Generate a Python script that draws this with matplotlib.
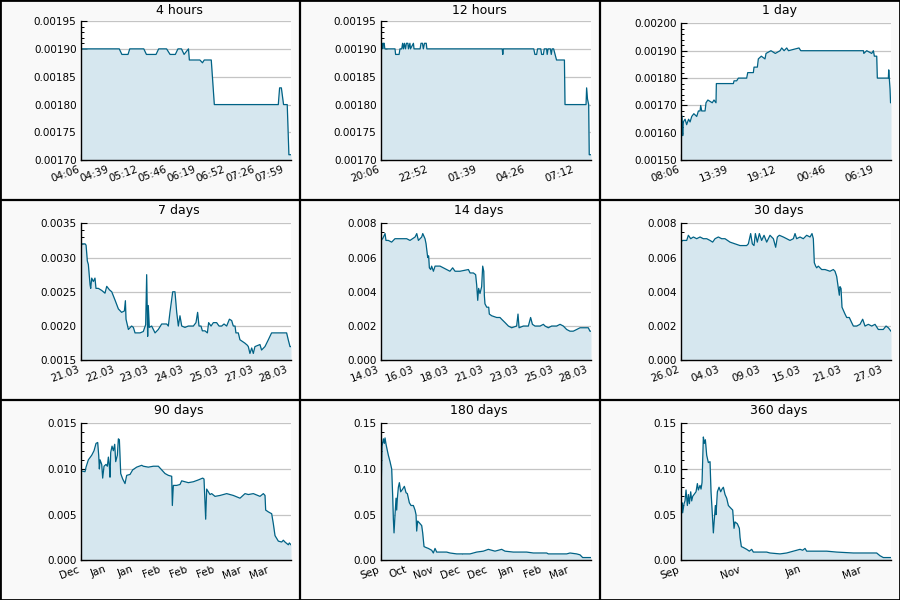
# price history, 9 time windows
import numpy as np
import pandas as pd
import matplotlib
matplotlib.use('Agg')
from matplotlib import pyplot as plt
import matplotlib.dates as mdates
from matplotlib.ticker import FormatStrFormatter, AutoMinorLocator
from matplotlib.lines import Line2D


end_time = pd.Timestamp('2019-03-28 08:06')

# 4 hours (minutes from start, value x 1e-5)
t_4h = [0, 44, 47, 54, 56, 72, 75, 86, 89, 98, 102, 108, 111, 115, 118, 123, 124,
        136, 139, 141, 149, 152.5, 225.5, 227, 229, 231.5, 235.7, 237.6, 240]
v_4h = [190, 190, 189, 189, 190, 190, 189, 189, 190, 190, 189, 189, 190, 190, 189, 190, 188,
        188, 187.5, 188, 188, 180, 180, 183, 183, 180, 180, 171, 171]

# 12 hours (minutes from start, value x 1e-5)
t_12h = [0, 1, 5, 7, 9, 12, 14, 18, 49, 51, 63, 66, 72, 75, 78, 81, 85, 88, 93, 95,
         100, 102, 112, 114, 135, 138, 143, 146, 150, 156, 158, 416, 418, 420, 524, 528,
         534, 537, 548, 551, 557, 560, 568, 570, 573, 581, 584, 587, 592, 597, 602, 629,
         631, 703, 705, 708, 712, 714, 720]
v_12h = [190, 191, 191, 190, 191, 191, 190, 190, 190, 189, 189, 190, 190, 191, 190, 191, 190, 191, 191, 190,
         191, 190, 191, 190, 190, 191, 191, 190, 191, 191, 190, 190, 189, 190, 190, 189,
         189, 190, 190, 189, 189, 190, 190, 189, 190, 190, 189, 190, 190, 189, 188, 188,
         180, 180, 183, 181, 180, 171, 171]

# 1 day (hours from start, value x 1e-5)
t_1d = [0, 0.15, 0.23, 0.3, 0.5, 0.68, 0.9, 1.07, 1.26, 1.5, 1.83, 2.02, 2.21, 2.28, 2.40,
        2.78, 2.89, 3.1, 3.6, 3.8, 4.03, 4.07, 6.01, 6.09, 6.39, 6.58, 7.53, 7.65, 8.29,
        8.37, 8.75, 8.86, 9.2, 9.62, 9.74, 10.3, 10.8, 11.34, 11.53, 11.8, 12.10, 12.3,
        13.5, 13.7, 20.85, 20.9, 21.23, 21.80, 21.99, 22.1, 22.37, 22.44, 23.70, 23.74,
        23.89, 23.95, 24.0]
v_1d = [167, 166, 159, 164, 165, 163, 165, 164, 166, 167, 166, 168, 168, 170, 168,
        168, 171, 172, 171, 172, 171, 178, 178, 179, 179, 180, 180, 182, 182,
        184, 184, 187, 188, 187, 189, 190, 189, 190, 191, 190, 191, 190,
        191, 190, 190, 189, 190, 189, 190, 188, 188, 180, 180, 183,
        176, 171, 171]

# 7 days (hours from start)
t_7d = [0, 0.8, 3.5, 4.3, 5.3, 6.1, 7.5, 8.0, 8.8, 10.1, 11.4, 12.2, 14.1, 16.8, 19.4, 20.8,
        22.9, 24.8, 27.4, 30.1, 32.7, 34.9, 35.7, 36.2, 38.1, 40.7, 42.1, 43.4, 47.4, 50.0,
        51.9, 52.7, 53.5, 54.0, 54.8, 56.7, 59.4, 62.0, 64.7, 68.7, 70.0, 71.3, 73.5, 75.3,
        76.7, 78.0, 79.3, 80.7, 83.3, 86.0, 90.0, 92.1, 93.4, 94.5, 96.1, 97.2, 99.3, 101.2,
        102.2, 104.1, 106.0, 108.6, 110.5, 112.6, 114.5, 116.6, 118.8, 120.6, 121.9, 123.3,
        124.0, 125.9, 127.2, 131.2, 133.1, 133.9, 135.2, 136.6, 137.9, 139.2, 143.2, 144.5,
        147.2, 149.9, 152.5, 164.5, 165.8, 167.2, 168]
v_7d = [0.00310, 0.00320, 0.00320, 0.00318, 0.00295, 0.00290, 0.00260, 0.00255, 0.00270, 0.00265,
        0.00270, 0.00255, 0.00255, 0.00252, 0.00248, 0.00258, 0.00253, 0.00250, 0.00238, 0.00225,
        0.00220, 0.00222, 0.00237, 0.00210, 0.00195, 0.00200, 0.00198, 0.00190, 0.00190, 0.00192,
        0.00202, 0.00275, 0.00185, 0.00230, 0.00198, 0.00200, 0.00190, 0.00195, 0.00203, 0.00203,
        0.00200, 0.00220, 0.00250, 0.00250, 0.00220, 0.00200, 0.00215, 0.00200, 0.00198, 0.00200,
        0.00200, 0.00205, 0.00220, 0.00200, 0.00200, 0.00193, 0.00193, 0.00190, 0.00205, 0.00200,
        0.00205, 0.00205, 0.00200, 0.00200, 0.00203, 0.00200, 0.00210, 0.00208, 0.00200, 0.00200,
        0.00190, 0.00190, 0.00180, 0.00175, 0.00172, 0.00170, 0.00160, 0.00168, 0.00160, 0.00170,
        0.00173, 0.00165, 0.00170, 0.00180, 0.00190, 0.00190, 0.00180, 0.00170, 0.00170]

# 14 days (days from start)
t_14d = [0, 0.13, 0.29, 0.35, 0.51, 0.73, 0.95, 1.29, 1.73, 1.95, 2.29, 2.40, 2.51, 2.73, 2.80,
         2.95, 3.02, 3.06, 3.13, 3.19, 3.24, 3.33, 3.39, 3.51, 3.62, 3.95, 4.17, 4.39, 4.61,
         4.79, 4.95, 5.28, 5.84, 5.95, 6.17, 6.32, 6.39, 6.46, 6.52, 6.61, 6.72, 6.79, 6.86,
         6.90, 6.94, 7.06, 7.19, 7.23, 7.39, 7.72, 7.94, 8.05, 8.28, 8.50, 8.72, 9.05, 9.14,
         9.21, 9.50, 9.83, 9.98, 10.10, 10.27, 10.61, 10.83, 10.94, 11.16, 11.38, 11.71, 11.94,
         12.16, 12.38, 12.60, 12.82, 13.05, 13.27, 13.71, 13.82, 13.93, 14.0]
v_14d = [0.0070, 0.0071, 0.0074, 0.0070, 0.0070, 0.0069, 0.0071, 0.0071, 0.0071, 0.0070, 0.0072,
         0.0074, 0.0070, 0.0072, 0.0074, 0.0071, 0.0068, 0.0065, 0.0060, 0.0061, 0.0054, 0.0053,
         0.0055, 0.0052, 0.0055, 0.0055, 0.0054, 0.0053, 0.0052, 0.0054, 0.0052, 0.0052, 0.0053,
         0.0051, 0.0051, 0.0050, 0.0044, 0.0035, 0.0042, 0.0039, 0.0043, 0.0055, 0.0052, 0.0038,
         0.0033, 0.0031, 0.0031, 0.0027, 0.0026, 0.0025, 0.0025, 0.0024, 0.0022, 0.0020, 0.0019,
         0.0020, 0.0027, 0.0019, 0.0020, 0.0020, 0.0025, 0.0021, 0.0020, 0.0020, 0.0021, 0.0020,
         0.0019, 0.0020, 0.0020, 0.0021, 0.0020, 0.0018, 0.0017, 0.0017, 0.0018, 0.0019, 0.0019,
         0.0019, 0.0017, 0.0017]

# 30 days (days from start)
t_30d = [0, 0.29, 0.86, 1.09, 1.43, 1.81, 2.28, 2.76, 3.23, 3.71, 4.18, 4.56, 4.90, 5.37, 5.85,
         6.32, 7.04, 7.75, 8.46, 9.41, 9.65, 9.98, 10.22, 10.46, 10.65, 10.93, 11.22, 11.55,
         11.89, 12.27, 12.74, 13.22, 13.55, 13.79, 14.07, 14.64, 15.12, 15.59, 16.07, 16.31,
         16.54, 17.02, 17.49, 17.97, 18.45, 18.73, 18.92, 19.06, 19.25, 19.40, 19.63, 20.11,
         20.59, 21.30, 21.77, 22.01, 22.25, 22.49, 22.63, 22.72, 22.87, 23.01, 23.44, 23.68,
         24.05, 24.39, 24.63, 25.10, 25.58, 25.96, 26.29, 26.77, 27.24, 27.72, 28.19, 28.90,
         29.29, 29.62, 30.0]
v_30d = [0.0069, 0.0070, 0.0070, 0.0073, 0.0071, 0.0072, 0.0071, 0.0072, 0.0071, 0.0071, 0.0070,
         0.0069, 0.0071, 0.0072, 0.0071, 0.0071, 0.0069, 0.0068, 0.0067, 0.0067, 0.0068, 0.0074,
         0.0068, 0.0067, 0.0074, 0.0069, 0.0074, 0.0070, 0.0073, 0.0069, 0.0073, 0.0071, 0.0066,
         0.0072, 0.0073, 0.0072, 0.0071, 0.0070, 0.0071, 0.0074, 0.0071, 0.0072, 0.0071, 0.0073,
         0.0072, 0.0074, 0.0071, 0.0057, 0.0055, 0.0054, 0.0055, 0.0053, 0.0053, 0.0052, 0.0053,
         0.0052, 0.0049, 0.0042, 0.0038, 0.0043, 0.0042, 0.0031, 0.0027, 0.0025, 0.0025, 0.0022,
         0.0020, 0.0020, 0.0021, 0.0024, 0.0020, 0.0021, 0.0020, 0.0021, 0.0018, 0.0018, 0.0020,
         0.0019, 0.0017]

# 90 days (days from start)
t_90d = [0, 1.85, 2.28, 3.28, 4.71, 5.71, 6.56, 7.27, 7.70, 7.99, 8.27, 8.99, 9.41, 9.98, 10.84,
         11.41, 11.84, 12.27, 12.55, 12.84, 13.41, 13.98, 14.55, 14.98, 15.69, 16.12, 16.55,
         17.12, 17.97, 18.97, 19.68, 21.11, 22.25, 23.96, 26.10, 26.81, 28.95, 31.09, 33.23,
         34.66, 36.09, 37.51, 38.94, 39.22, 39.65, 41.08, 42.50, 43.22, 44.64, 46.07, 48.21,
         50.35, 52.20, 52.77, 53.49, 53.91, 54.63, 55.34, 56.05, 57.48, 59.62, 61.05, 62.47,
         63.90, 65.32, 68.18, 70.32, 71.74, 73.88, 76.74, 78.16, 78.88, 79.16, 80.30, 81.73,
         82.44, 83.16, 84.58, 86.01, 86.72, 87.43, 88.86, 89.29, 90.0]
v_90d = [0.0098, 0.0097, 0.0102, 0.0110, 0.0115, 0.0120, 0.0128, 0.0129, 0.0115, 0.0100, 0.0110,
         0.0105, 0.0090, 0.0103, 0.0105, 0.0103, 0.0113, 0.0103, 0.0091, 0.0118, 0.0125, 0.0120,
         0.0127, 0.0108, 0.0115, 0.0133, 0.0132, 0.0095, 0.0089, 0.0084, 0.0093, 0.0094, 0.0099,
         0.0102, 0.0104, 0.0103, 0.0102, 0.0103, 0.0103, 0.0099, 0.0095, 0.0093, 0.0092, 0.0060,
         0.0082, 0.0082, 0.0083, 0.0087, 0.0086, 0.0085, 0.0086, 0.0088, 0.0090, 0.0089, 0.0045,
         0.0078, 0.0075, 0.0072, 0.0073, 0.0070, 0.0071, 0.0072, 0.0073, 0.0072, 0.0071, 0.0068,
         0.0073, 0.0072, 0.0073, 0.0070, 0.0073, 0.0071, 0.0055, 0.0053, 0.0051, 0.0040, 0.0027,
         0.0021, 0.0020, 0.0022, 0.0020, 0.0017, 0.0019, 0.0017]

# 180 days (days from start)
t_180d = [0, 0.57, 1.14, 2.28, 3.14, 3.71, 4.56, 5.71, 6.56, 7.99, 9.41, 10.27, 10.84, 11.41,
          12.27, 13.12, 13.69, 14.26, 15.12, 15.97, 17.12, 18.83, 20.25, 21.68, 22.82, 24.53,
          25.96, 27.96, 29.38, 30.24, 30.81, 31.66, 33.09, 35.09, 35.94, 37.08, 38.80, 40.79,
          43.64, 45.07, 46.50, 47.92, 50.78, 56.48, 59.33, 65.04, 70.74, 76.45, 82.15, 87.86,
          92.14, 94.99, 97.84, 100.70, 103.55, 106.40, 113.53, 124.94, 130.65, 142.06, 143.49,
          153.47, 159.18, 162.03, 167.73, 170.59, 172.87, 180.0]
v_180d = [0.075, 0.090, 0.125, 0.133, 0.128, 0.134, 0.127, 0.120, 0.115, 0.108, 0.100, 0.070,
          0.045, 0.030, 0.050, 0.068, 0.055, 0.068, 0.080, 0.085, 0.075, 0.078, 0.081, 0.074,
          0.073, 0.063, 0.060, 0.060, 0.055, 0.050, 0.032, 0.043, 0.041, 0.038, 0.030, 0.015,
          0.014, 0.013, 0.011, 0.008, 0.013, 0.009, 0.009, 0.009, 0.008, 0.007, 0.007, 0.007,
          0.009, 0.010, 0.012, 0.011, 0.010, 0.011, 0.012, 0.010, 0.009, 0.009, 0.008, 0.008,
          0.007, 0.007, 0.007, 0.008, 0.007, 0.006, 0.003, 0.003]

# 360 days (data only goes back ~200 days)
t_360d = [0, 0.63, 1.27, 1.90, 3.17, 4.12, 5.07, 6.34, 7.29, 8.24, 9.51, 10.46, 11.41, 12.68,
          14.58, 15.85, 16.80, 18.38, 19.33, 20.29, 20.92, 21.55, 22.50, 23.46, 24.72, 26.31,
          27.89, 28.84, 30.11, 31.06, 32.01, 32.96, 33.60, 34.87, 36.45, 38.04, 39.30, 40.57,
          42.16, 43.74, 45.33, 46.91, 49.45, 50.71, 51.66, 53.88, 55.78, 56.42, 57.69, 59.59,
          62.76, 65.29, 67.51, 69.10, 75.44, 81.78, 84.95, 94.45, 100.79, 107.13, 113.47, 116.01,
          118.23, 119.81, 126.15, 138.83, 148.34, 164.19, 176.86, 186.37, 189.54, 192.71, 200.0]
v_360d = [0.060, 0.055, 0.063, 0.052, 0.062, 0.065, 0.077, 0.060, 0.072, 0.062, 0.075, 0.065,
          0.070, 0.072, 0.075, 0.084, 0.077, 0.082, 0.078, 0.085, 0.110, 0.135, 0.128, 0.132,
          0.115, 0.107, 0.108, 0.075, 0.050, 0.030, 0.045, 0.060, 0.050, 0.075, 0.080, 0.075,
          0.078, 0.080, 0.072, 0.068, 0.060, 0.058, 0.055, 0.035, 0.042, 0.040, 0.035, 0.025,
          0.015, 0.014, 0.012, 0.010, 0.012, 0.009, 0.009, 0.009, 0.008, 0.007, 0.008, 0.010,
          0.012, 0.011, 0.013, 0.010, 0.010, 0.010, 0.009, 0.008, 0.008, 0.008, 0.005, 0.003,
          0.003]

# panel settings: title, times, unit, values, scale, span, tick step (s), date fmt, ylim, ystep, yfmt, axes top px
panels = [
    ('4 hours', t_4h, 'min', v_4h, 1e-5, pd.Timedelta(hours=4), 2000, '%H:%M', (0.0017, 0.00195), 0.00005, '%.5f', 21),
    ('12 hours', t_12h, 'min', v_12h, 1e-5, pd.Timedelta(hours=12), 10000, '%H:%M', (0.0017, 0.00195), 0.00005, '%.5f', 21),
    ('1 day', t_1d, 'h', v_1d, 1e-5, pd.Timedelta(days=1), 20000, '%H:%M', (0.0015, 0.0020), 0.0001, '%.5f', 23.3),
    ('7 days', t_7d, 'h', v_7d, 1, pd.Timedelta(days=7), 100000, '%d.%m', (0.0015, 0.0035), 0.0005, '%.4f', 23.3),
    ('14 days', t_14d, 'D', v_14d, 1, pd.Timedelta(days=14), 200000, '%d.%m', (0, 0.008), 0.002, '%.3f', 23.3),
    ('30 days', t_30d, 'D', v_30d, 1, pd.Timedelta(days=30), 500000, '%d.%m', (0, 0.008), 0.002, '%.3f', 23.3),
    ('90 days', t_90d, 'D', v_90d, 1, pd.Timedelta(days=90), 1000000, '%b', (0, 0.015), 0.005, '%.3f', 23.3),
    ('180 days', t_180d, 'D', v_180d, 1, pd.Timedelta(days=180), 2000000, '%b', (0, 0.15), 0.05, '%.2f', 23.3),
    ('360 days', t_360d, 'D', v_360d, 1, pd.Timedelta(days=200), 5000000, '%b', (0, 0.15), 0.05, '%.2f', 23.3),
]

line_color = '#006285'
fill_color = '#d6e7ef'

fig = plt.figure(figsize=(9, 6), dpi=100, facecolor='#f9f9f9')

for i, (title, t, unit, v, scale, span, step, fmt, ylim, ystep, yfmt, top) in enumerate(panels):
    row, col = divmod(i, 3)
    left = (col * 300 + 80.7) / 900
    width = 210.3 / 900
    bottom = (600 - (row * 200 + 160.3)) / 600
    height = (160.3 - top) / 600
    ax = fig.add_axes([left, bottom, width, height])
    ax.set_facecolor('white')

    start = end_time - span
    times = start + pd.to_timedelta(np.array(t, dtype=float), unit=unit)
    vals = np.array(v, dtype=float) * scale

    ax.fill_between(times, vals, ylim[0], color=fill_color, lw=0, zorder=1)
    ax.plot(times, vals, color=line_color, lw=0.9, zorder=2)

    ax.set_xlim(start, end_time)
    ax.set_ylim(*ylim)

    # x ticks every `step` seconds from the start
    n = int(span.total_seconds() // step) + 1
    ticks = [start + pd.Timedelta(seconds=step * k) for k in range(n)]
    ax.set_xticks(ticks)
    ax.xaxis.set_major_formatter(mdates.DateFormatter(fmt))
    plt.setp(ax.get_xticklabels(), rotation=20, ha='right')

    ax.set_yticks(np.arange(ylim[0], ylim[1] + ystep / 2, ystep))
    ax.yaxis.set_major_formatter(FormatStrFormatter(yfmt))
    ax.yaxis.set_minor_locator(AutoMinorLocator())

    ax.grid(axis='y', color='#c4c4c4', lw=0.9, zorder=0)
    ax.set_axisbelow(True)
    for s in ['top', 'right']:
        ax.spines[s].set_visible(False)
    for s in ['left', 'bottom']:
        ax.spines[s].set_color('black')
        ax.spines[s].set_linewidth(1)
        ax.spines[s].set_zorder(3)
    ax.tick_params(axis='both', which='major', direction='in', length=4, width=0.8,
                   labelsize=7.5, colors='black', pad=3)
    ax.tick_params(axis='y', which='minor', direction='in', length=2, width=0.7)
    ax.tick_params(axis='x', which='minor', bottom=False)

    fig.text((col * 300 + 179) / 900, 1 - (row * 200 + 10.5) / 600, title,
             ha='center', va='center', fontsize=9)

# black cell borders
for x in [300 / 900, 600 / 900]:
    fig.add_artist(Line2D([x, x], [0, 1], color='black', lw=1.6))
for y in [200 / 600, 400 / 600]:
    fig.add_artist(Line2D([0, 1], [y, y], color='black', lw=1.6))
fig.add_artist(plt.Rectangle((0, 0), 1, 1, fill=False, edgecolor='black', lw=2,
                             transform=fig.transFigure))

fig.savefig('out.png', dpi=100, facecolor=fig.get_facecolor())
